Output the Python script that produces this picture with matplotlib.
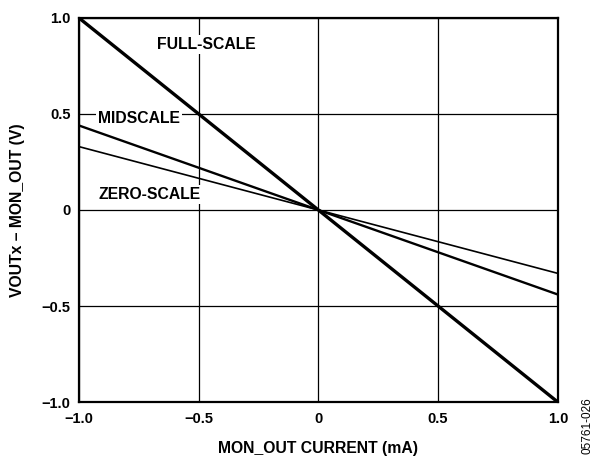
import matplotlib; matplotlib.use("Agg"); import matplotlib.pyplot as plt

# MON_OUT current (mA) vs VOUTx - MON_OUT (V), straight lines through 0
current = [-1.0, 1.0]
full_scale = [1.0, -1.0]
mid_scale = [0.44, -0.44]
zero_scale = [0.33, -0.33]

ticks = [-1.0, -0.5, 0.0, 0.5, 1.0]
tick_labels = ["\u22121.0", "\u22120.5", "0", "0.5", "1.0"]

plt.rcParams["font.family"] = ["Liberation Sans", "DejaVu Sans"]
plt.rcParams["font.weight"] = "bold"

fig = plt.figure(figsize=(6.07, 4.59), dpi=100)
ax = fig.add_axes([0.130, 0.124, 0.789, 0.837])

ax.plot(current, zero_scale, color="black", lw=1.2, zorder=3)
ax.plot(current, mid_scale, color="black", lw=1.7, zorder=3)
ax.plot(current, full_scale, color="black", lw=2.4, zorder=3)

ax.set_xlim(-1, 1); ax.set_ylim(-1, 1)
ax.set_xticks(ticks); ax.set_yticks(ticks)
ax.set_xticklabels(tick_labels, fontsize=10.5, fontweight="bold")
ax.set_yticklabels(tick_labels, fontsize=10.5, fontweight="bold")
ax.tick_params(axis="x", length=0, pad=7)
ax.tick_params(axis="y", length=0, pad=6)
ax.grid(True, color="black", lw=0.9)
for s in ax.spines.values():
    s.set_linewidth(1.6)

box = dict(facecolor="white", edgecolor="none", pad=1.5)
ax.text(-0.675, 0.86, "FULL-SCALE", fontsize=11.3, fontweight="bold", va="center", bbox=box, zorder=4)
ax.text(-0.92, 0.475, "MIDSCALE", fontsize=11.3, fontweight="bold", va="center", bbox=box, zorder=4)
ax.text(-0.92, 0.08, "ZERO-SCALE", fontsize=11.3, fontweight="bold", va="center", bbox=box, zorder=4)

ax.set_xlabel("MON_OUT CURRENT (mA)", fontsize=11.3, fontweight="bold", labelpad=11)
ax.set_ylabel("VOUTx \u2013 MON_OUT (V)", fontsize=11.3, fontweight="bold", labelpad=12)

fig.text(0.968, 0.01, "05761-026", rotation=90, fontsize=8.5, fontweight="normal",
         ha="center", va="bottom")

fig.savefig("out.png", dpi=100)
